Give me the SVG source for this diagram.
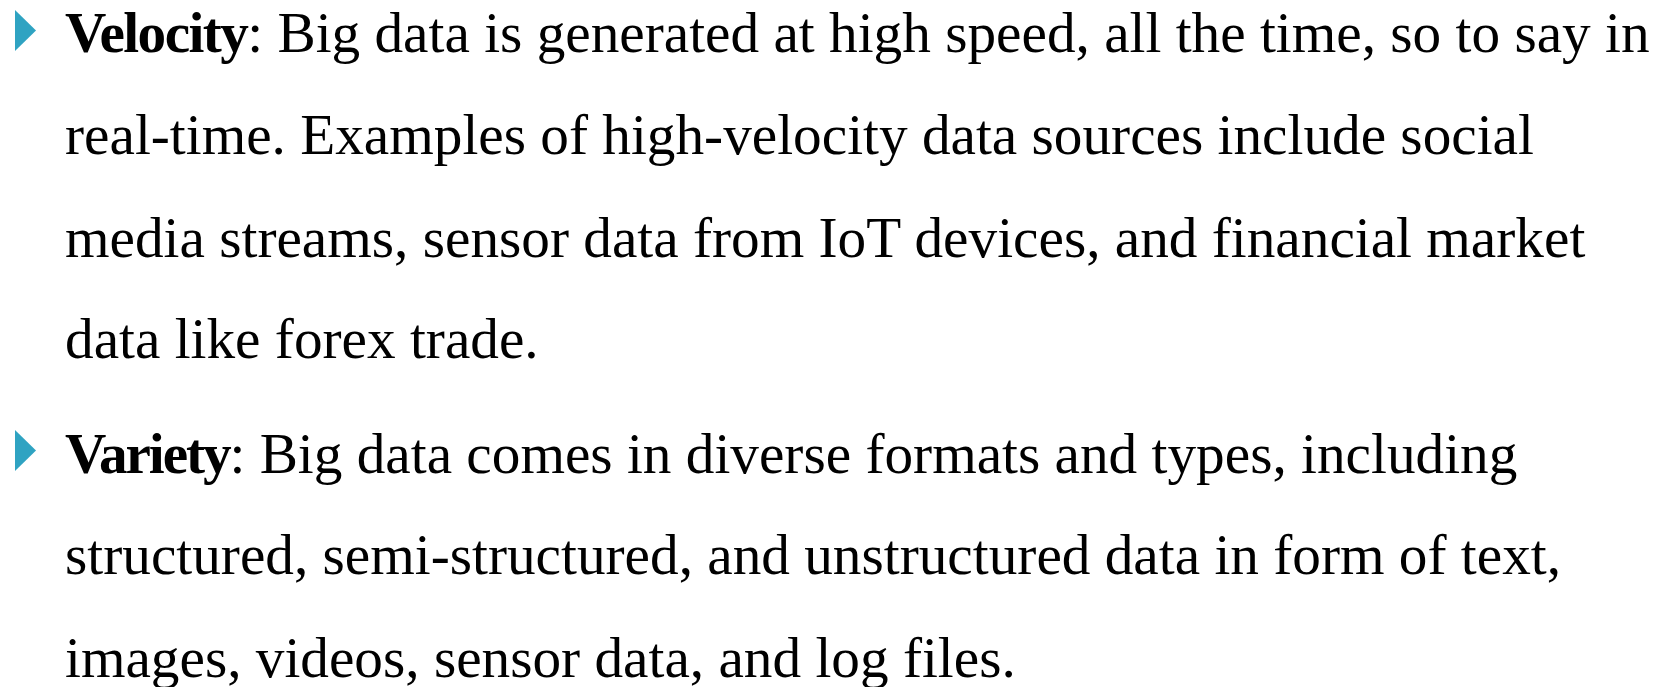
<svg xmlns="http://www.w3.org/2000/svg" width="1675" height="687" viewBox="0 0 1675 687">
  <style>
    .body { font-family: "Liberation Serif", "Times New Roman", serif; font-size: 57.25px; fill: #000000; }
    .term { font-weight: bold; letter-spacing: -1.6px; }
    .term.tight { letter-spacing: -2.1px; }
    .bullet { fill: #2FA3C2; }
  </style>
  <defs>
    <polygon id="arrow-bullet" points="0,0 21,20.5 0,41"/>
  </defs>
  <rect x="0" y="0" width="1675" height="687" fill="#ffffff"/>

  <!-- Velocity paragraph -->
  <g id="velocity">
    <use href="#arrow-bullet" class="bullet" x="15" y="10"/>
    <text class="body" x="65" y="52"><tspan class="term">Velocity</tspan>: Big data is generated at high speed, all the time, so to say in</text>
    <text class="body" x="65" y="154">real-time. Examples of high-velocity data sources include social</text>
    <text class="body" x="65" y="257">media streams, sensor data from IoT devices, and financial market</text>
    <text class="body" x="65" y="358">data like forex trade.</text>
  </g>

  <!-- Variety paragraph -->
  <g id="variety">
    <use href="#arrow-bullet" class="bullet" x="15" y="430"/>
    <text class="body" x="65" y="473"><tspan class="term tight">Variety</tspan>: Big data comes in diverse formats and types, including</text>
    <text class="body" x="65" y="574">structured, semi-structured, and unstructured data in form of text,</text>
    <text class="body" x="65" y="677">images, videos, sensor data, and log files.</text>
  </g>
</svg>
